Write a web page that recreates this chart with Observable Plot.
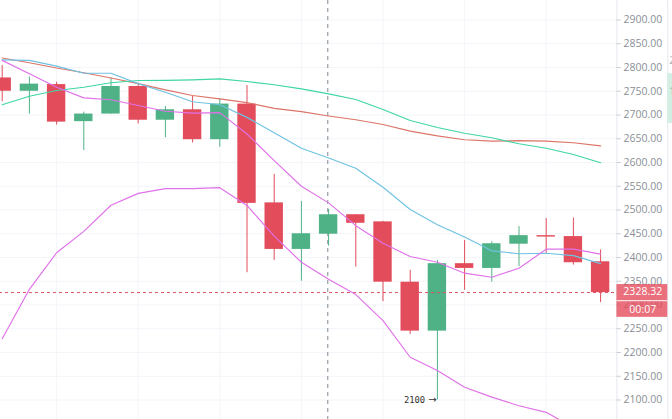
<!DOCTYPE html>
<html>
<head>
<meta charset="utf-8">
<script src="https://cdn.jsdelivr.net/npm/d3@7"></script>
<script src="https://cdn.jsdelivr.net/npm/@observablehq/plot@0.6"></script>
<style>
html,body{margin:0;padding:0;background:#fff;overflow:hidden}
svg{display:block}
</style>
</head>
<body>
<div id="chart"></div>
<script>
const opens  = [2778,2750,2764,2686,2702,2760,2689,2711,2648,2723,2515,2417,2449,2490,2475,2348,2245,2387,2377,2428,2446,2444,2391];
const closes = [2750,2765,2685,2702,2760,2689,2711,2648,2723,2514,2417,2450,2490,2472,2348,2245,2387,2377,2429,2446,2443,2389,2326];
const highs  = [2804,2780,2769,2706,2778,2767,2718,2739,2734,2762,2575,2518,2501,2490,2476,2373,2394,2436,2433,2465,2482,2483,2416];
const lows   = [2728,2702,2679,2625,2702,2681,2652,2641,2632,2368,2394,2350,2424,2380,2307,2238,2100,2331,2348,2381,2409,2384,2305];

const maRed   = [2820,2810,2799,2789,2778,2766,2753,2741,2734,2726,2714,2707,2698,2690,2680,2666,2656,2648,2645,2646,2645,2641.5,2635];
const maGreen = [2721.5,2739.6,2751.6,2758.5,2768,2772.6,2773,2774,2776,2770.5,2763.6,2755,2744.6,2732.6,2711.6,2688.4,2673.7,2661.7,2652,2639.4,2630,2616.8,2599.4];
const maBlue  = [2816,2815,2803,2788,2788,2766,2748,2728,2721.5,2695,2662.5,2630,2609.5,2588,2548,2501,2469,2443,2414,2408,2409,2404,2387];
const bandUp  = [2815,2787,2758.5,2736,2732,2720,2708,2704,2705,2660,2604,2550,2515,2467,2430,2402,2390,2367,2358.5,2377.5,2417.5,2417.5,2407];
const bandLow = [2229,2333,2410,2455,2510,2535,2545,2545,2547,2509.5,2445,2390,2354,2322,2267,2190,2162,2127,2106,2088,2074,2042];

const yTicks = d3.range(2100, 2901, 50);
const xGrid = [2,5,8,11,14,17,20];
const lastPrice = 2328.32;
const lastLabel = "2328.32";
const countdown = "00:07";
const lowNote = "2100";
const lowArrow = "→";
const crossIndex = 11.97;

const UP = "#4fb286", DOWN = "#e34c5b";
const candles = opens.map((o,i)=>({i,o,c:closes[i],h:highs[i],l:lows[i],col:closes[i]>=o?UP:DOWN}));
const line = (arr,stroke)=>Plot.line(arr.map((v,i)=>({i,v})),{x:"i",y:"v",stroke,strokeWidth:1.15,curve:"linear"});

const chart = Plot.plot({
  width:672,height:419,
  marginLeft:0,marginRight:55,marginTop:0,marginBottom:0,
  style:{background:"#fff",fontFamily:"'Open Sans',sans-serif"},
  x:{domain:[0,22],range:[1.7,600.1],axis:null},
  y:{domain:[2900,2100],range:[19.5,399.5],axis:null},
  marks:[
    Plot.ruleY(yTicks,{x1:-0.1,x2:22.6,stroke:"#f3f5f9",strokeWidth:1}),
    Plot.ruleX(xGrid,{y1:2941,y2:2018,stroke:"#f3f5f9",strokeWidth:1}),
    Plot.ruleX([crossIndex],{y1:2941,y2:2018,stroke:"#7d8894",strokeWidth:1,strokeDasharray:"4 4"}),
    Plot.ruleX(candles,{x:"i",y1:"h",y2:"l",stroke:"col",strokeWidth:1}),
    Plot.rect(candles,{x1:d=>d.i-0.338,x2:d=>d.i+0.338,y1:"o",y2:"c",fill:"col",inset:0}),
    Plot.ruleY([lastPrice],{x1:-0.1,x2:22.6,dy:1,stroke:"#d9535f",strokeWidth:1,strokeDasharray:"3 3"}),
    line(maRed,"#dc7468"),
    line(maGreen,"#3fd6a4"),
    line(maBlue,"#6fc2e2"),
    line(bandUp,"#e071e8"),
    line(bandLow,"#e071e8"),
    Plot.text([lowNote],{x:15.55,y:2100,text:d=>d,textAnchor:"end",fontFamily:"'DejaVu Sans Mono',monospace",fontSize:8.8,fill:"#333"}),
    Plot.text([lowArrow],{x:15.97,y:2100,text:d=>d,textAnchor:"end",fontFamily:"'DejaVu Sans',sans-serif",fontSize:10,fill:"#333"}),
    Plot.ruleX([22.6],{y1:2941,y2:2018,stroke:"#e4e7ee",strokeWidth:1}),
    Plot.ruleX([24.47],{y1:2941,y2:2018,stroke:"#e4e7ee",strokeWidth:1}),
    Plot.ruleY(yTicks,{x1:22.6,x2:22.76,stroke:"#c9ced6",strokeWidth:1}),
    Plot.text(yTicks,{x:22.84,y:d=>d,text:d=>d.toFixed(2),textAnchor:"start",fontSize:10.5,fill:"#8a8f96"}),
    Plot.rect([0],{x1:24.47,x2:24.7,y1:2787,y2:2682,fill:"#d3eee2"}),
    Plot.text(["2"],{x:24.52,y:2814,text:d=>d,textAnchor:"start",fontSize:10,fill:"#a9adb3"}),
    Plot.text(["1"],{x:24.52,y:2748,text:d=>d,textAnchor:"start",fontSize:10,fill:"#9fb8ad"}),
    Plot.rect([0],{x1:22.6,x2:24.47,y1:2343,y2:2274,fill:DOWN,fillOpacity:0.8}),
    Plot.ruleY([2309],{x1:22.6,x2:24.47,stroke:"#fff",strokeWidth:1}),
    Plot.text([lastLabel],{x:23.55,y:lastPrice,text:d=>d,fontSize:10.5,fontWeight:500,fill:"#fff"}),
    Plot.text([countdown],{x:23.55,y:2290,text:d=>d,fontSize:10.5,fontWeight:500,fill:"#fff"})
  ]
});
document.getElementById("chart").append(chart);
</script>
</body>
</html>
